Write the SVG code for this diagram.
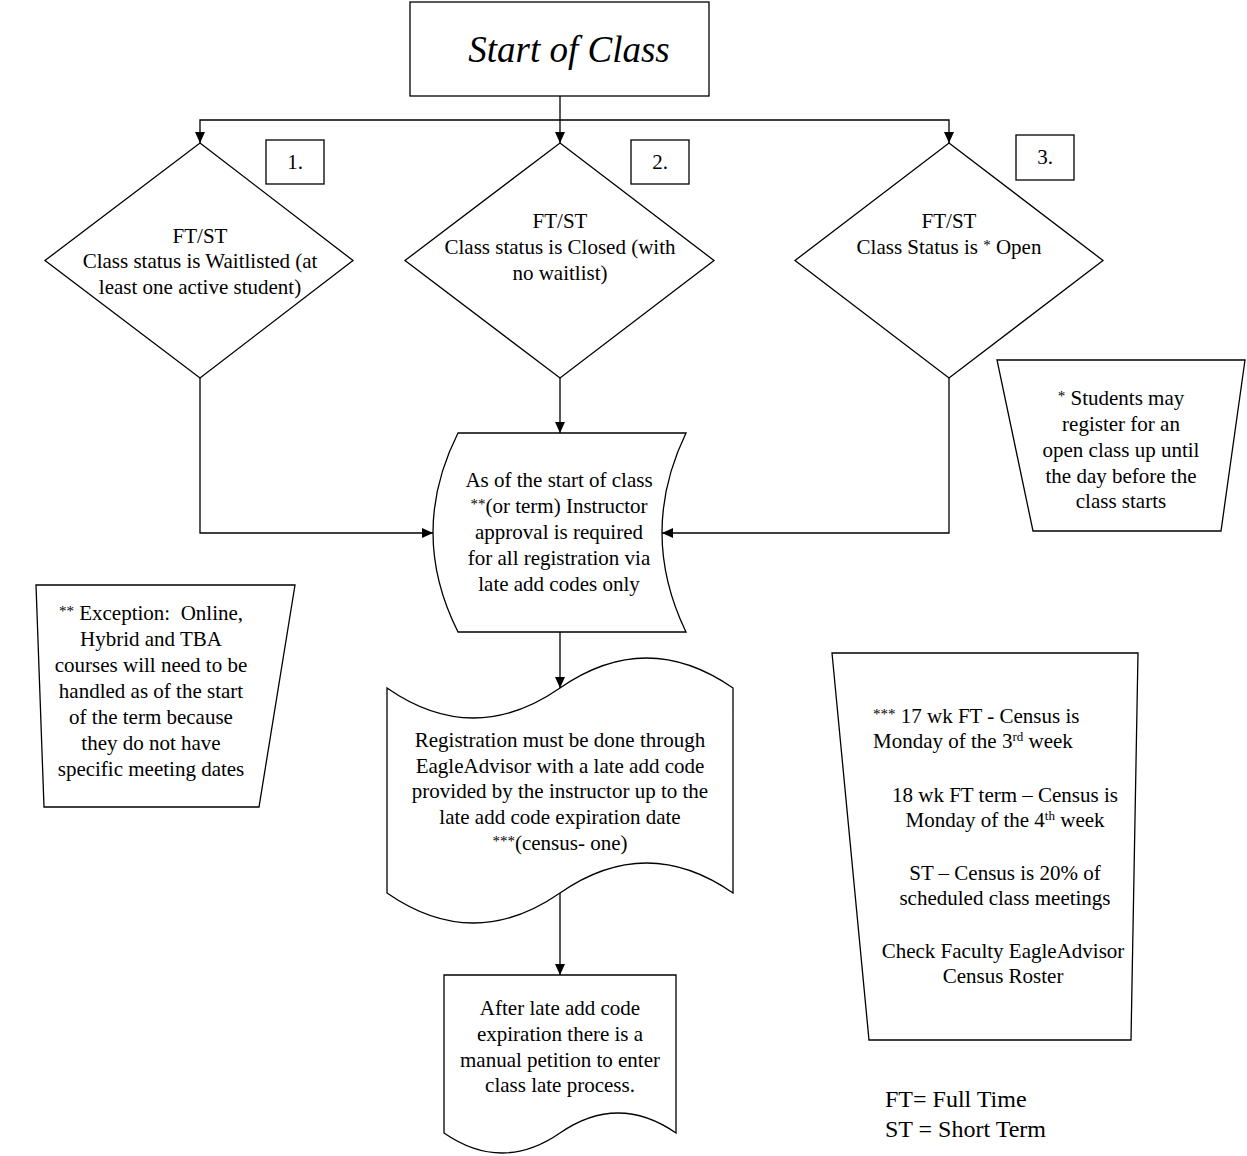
<svg xmlns="http://www.w3.org/2000/svg" width="1247" height="1156" viewBox="0 0 1247 1156">
<style>
.shape{fill:#fff;stroke:#000;stroke-width:1.3}
.conn{fill:none;stroke:#000;stroke-width:1.3}
text{font-family:"Liberation Serif","Times New Roman",serif;font-size:21px;fill:#000}
.c{text-anchor:middle}
.sup{font-size:13px}
.ast{font-size:15px;baseline-shift:4px}
</style>
<defs>
<marker id="arr" markerUnits="userSpaceOnUse" markerWidth="11" markerHeight="10" refX="11" refY="5" orient="auto">
<path d="M0,0 L11,5 L0,10 z" fill="#000"/>
</marker>
</defs>
<rect width="1247" height="1156" fill="#fff"/>

<g id="connectors">
<path class="conn" d="M560,96 L560,143" marker-end="url(#arr)"/>
<path class="conn" d="M560,120 L200,120 L200,143" marker-end="url(#arr)"/>
<path class="conn" d="M560,120 L949,120 L949,143" marker-end="url(#arr)"/>
<path class="conn" d="M200,378 L200,533 L433,533" marker-end="url(#arr)"/>
<path class="conn" d="M560,378 L560,433" marker-end="url(#arr)"/>
<path class="conn" d="M949,378 L949,533 L662,533" marker-end="url(#arr)"/>
<path class="conn" d="M560,632 L560,688" marker-end="url(#arr)"/>
<path class="conn" d="M560,893 L560,975" marker-end="url(#arr)"/>
</g>

<g id="start">
<rect class="shape" x="410" y="2" width="299" height="94"/>
<text class="c" x="569" y="62" style="font-size:37px;font-style:italic">Start of Class</text>
</g>

<g id="decision1">
<polygon class="shape" points="200,143 353,260.5 200,378 45,260.5"/>
<text class="c" x="200" y="243">FT/ST</text>
<text class="c" x="200" y="268">Class status is Waitlisted (at</text>
<text class="c" x="200" y="294">least one active student)</text>
</g>
<g id="label1">
<rect class="shape" x="266" y="140" width="58" height="44"/>
<text class="c" x="295" y="169">1.</text>
</g>

<g id="decision2">
<polygon class="shape" points="560,143 714,260.5 560,378 405,260.5"/>
<text class="c" x="560" y="228">FT/ST</text>
<text class="c" x="560" y="254">Class status is Closed (with</text>
<text class="c" x="560" y="280">no waitlist)</text>
</g>
<g id="label2">
<rect class="shape" x="631" y="140" width="58" height="44"/>
<text class="c" x="660" y="169">2.</text>
</g>

<g id="decision3">
<polygon class="shape" points="949,143 1103,260.5 949,378 795,260.5"/>
<text class="c" x="949" y="228">FT/ST</text>
<text class="c" x="949" y="254">Class Status is <tspan class="ast">*</tspan> Open</text>
</g>
<g id="label3">
<rect class="shape" x="1016" y="135" width="58" height="45"/>
<text class="c" x="1045" y="164">3.</text>
</g>

<g id="note-open">
<polygon class="shape" points="997,360 1245,360 1221,531 1033,531"/>
<text class="c" x="1121" y="405"><tspan class="ast">*</tspan> Students may</text>
<text class="c" x="1121" y="431">register for an</text>
<text class="c" x="1121" y="457">open class up until</text>
<text class="c" x="1121" y="483">the day before the</text>
<text class="c" x="1121" y="508">class starts</text>
</g>

<g id="approval">
<path class="shape" d="M458,433 L686,433 Q638,532.5 686,632 L458,632 Q408,532.5 458,433 Z"/>
<text class="c" x="559" y="487">As of the start of class</text>
<text class="c" x="559" y="513"><tspan class="ast">**</tspan>(or term) Instructor</text>
<text class="c" x="559" y="539">approval is required</text>
<text class="c" x="559" y="565">for all registration via</text>
<text class="c" x="559" y="591">late add codes only</text>
</g>

<g id="note-exception">
<polygon class="shape" points="36,585 295,585 259,807 44,807"/>
<text class="c" x="151" y="620"><tspan class="ast">**</tspan> Exception:&#160; Online,</text>
<text class="c" x="151" y="646">Hybrid and TBA</text>
<text class="c" x="151" y="672">courses will need to be</text>
<text class="c" x="151" y="698">handled as of the start</text>
<text class="c" x="151" y="724">of the term because</text>
<text class="c" x="151" y="750">they do not have</text>
<text class="c" x="151" y="776">specific meeting dates</text>
</g>

<g id="registration">
<path class="shape" d="M387,688 Q473.5,748 560,688 T733,688 L733,893 Q646.5,833 560,893 T387,893 Z"/>
<text class="c" x="560" y="747">Registration must be done through</text>
<text class="c" x="560" y="773">EagleAdvisor with a late add code</text>
<text class="c" x="560" y="798">provided by the instructor up to the</text>
<text class="c" x="560" y="824">late add code expiration date</text>
<text class="c" x="560" y="850"><tspan class="ast">***</tspan>(census- one)</text>
</g>

<g id="petition">
<path class="shape" d="M444,975 L676,975 L676,1133 Q618,1093 560,1133 T444,1133 Z"/>
<text class="c" x="560" y="1015">After late add code</text>
<text class="c" x="560" y="1041">expiration there is a</text>
<text class="c" x="560" y="1067">manual petition to enter</text>
<text class="c" x="560" y="1092">class late process.</text>
</g>

<g id="note-census">
<polygon class="shape" points="832,653 1138,653 1131,1040 869,1040"/>
<text x="873" y="723"><tspan class="ast">***</tspan> 17 wk FT - Census is</text>
<text x="873" y="748">Monday of the 3<tspan class="sup" dy="-7">rd</tspan><tspan dy="7"> week</tspan></text>
<text class="c" x="1005" y="802">18 wk FT term – Census is</text>
<text class="c" x="1005" y="827">Monday of the 4<tspan class="sup" dy="-7">th</tspan><tspan dy="7"> week</tspan></text>
<text class="c" x="1005" y="880">ST – Census is 20% of</text>
<text class="c" x="1005" y="905">scheduled class meetings</text>
<text class="c" x="1003" y="958">Check Faculty EagleAdvisor</text>
<text class="c" x="1003" y="983">Census Roster</text>
</g>

<g id="legend">
<text x="885" y="1107" style="font-size:24px">FT= Full Time</text>
<text x="885" y="1137" style="font-size:24px">ST = Short Term</text>
</g>
</svg>
